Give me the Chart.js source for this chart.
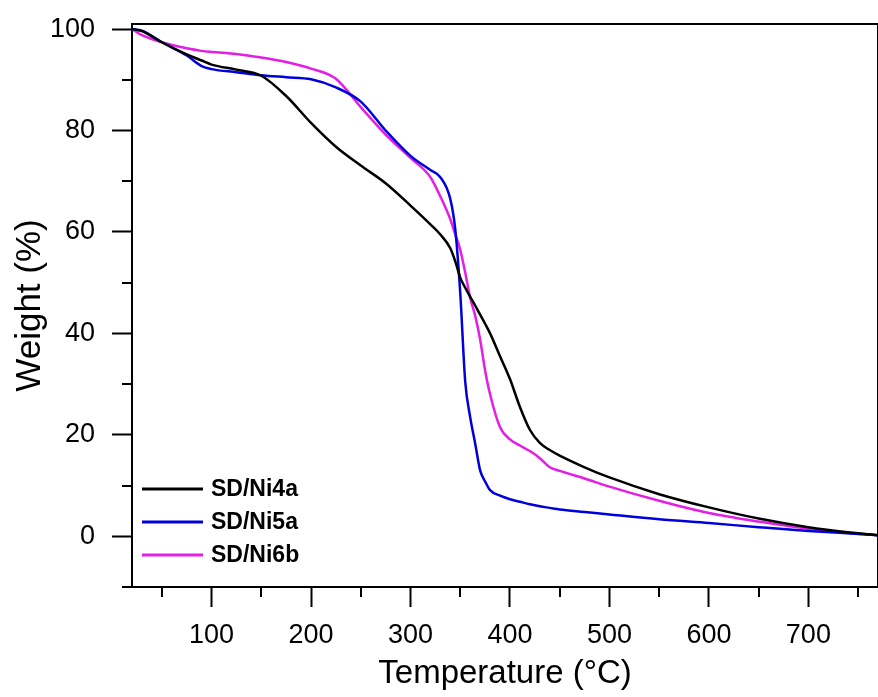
<!DOCTYPE html>
<html>
<head>
<meta charset="utf-8">
<script src="https://cdn.jsdelivr.net/npm/chart.js@4"></script>
<style>
  html, body { margin: 0; padding: 0; background: #fff; }
  canvas { display: block; }
</style>
</head>
<body>
<canvas id="tga" width="878" height="697"></canvas>
<script>
// Temperature grid (°C) and weight (%)
const temps = [20, 30, 50, 75, 90, 100, 125, 150, 175, 200, 225, 250, 275, 300, 320, 330, 340, 345, 350, 355,
  360, 365, 370, 375, 380, 390, 400, 410, 420, 430, 440, 450, 475, 500, 550, 600, 650, 700, 750, 770];

const ni4a = [100, 99.6, 97.4, 95, 93.8, 93.0, 92.0, 90.8, 86.8, 81.5, 76.8, 73.1, 69.6, 65.2, 61.5, 59.5, 56.8, 54.2, 51.0, 49.0,
  47.2, 45.5, 43.7, 41.9, 40.0, 35.5, 31.0, 25.5, 21.0, 18.4, 17.0, 15.9, 13.6, 11.6, 8.3, 5.7, 3.5, 1.8, 0.6, 0.2];

const ni5a = [100, 99.7, 97.4, 94.8, 92.7, 92.1, 91.5, 90.9, 90.5, 90.1, 88.5, 85.7, 80.0, 75.0, 72.2, 70.8, 66.5, 60.5, 48.0, 30.5,
  23.5, 18.3, 13.0, 10.8, 9.1, 8.0, 7.3, 6.8, 6.3, 5.9, 5.6, 5.3, 4.8, 4.3, 3.35, 2.6, 1.8, 1.05, 0.45, 0.2];

const ni6b = [100, 98.8, 97.4, 96.2, 95.7, 95.5, 95.1, 94.4, 93.5, 92.2, 90.2, 84.6, 79.2, 74.6, 70.8, 67.0, 62.5, 59.5, 56.5, 52.0,
  47.0, 43.5, 38.8, 32.7, 28.0, 21.5, 19.1, 17.9, 16.8, 15.4, 13.6, 12.9, 11.4, 9.8, 7.0, 4.6, 2.9, 1.5, 0.5, 0.2];

const seriesNames = ['SD/Ni4a', 'SD/Ni5a', 'SD/Ni6b'];
const seriesColors = ['#000000', '#0000dd', '#e41ee4'];

const xTicks = [100, 200, 300, 400, 500, 600, 700];
const xMinor = [50, 150, 250, 350, 450, 550, 650, 750];
const yTicks = [0, 20, 40, 60, 80, 100];
const yMinor = [-10, 10, 30, 50, 70, 90];

const FONT = "'Liberation Sans', Arial, Helvetica, sans-serif";

function toPoints(ys) {
  return temps.map((t, i) => ({ x: t, y: ys[i] }));
}

function noPad(s) {
  s.paddingTop = 0;
  s.paddingBottom = 0;
  s.paddingLeft = 0;
  s.paddingRight = 0;
}

// minor ticks, top/right frame and the in-plot legend
const extras = {
  id: 'extras',
  afterDraw(chart) {
    const ctx = chart.ctx;
    const a = chart.chartArea;
    const xs = chart.scales.x, ys = chart.scales.y;
    ctx.save();
    ctx.strokeStyle = '#000';
    ctx.lineWidth = 2;
    ctx.beginPath();
    ctx.moveTo(a.left, a.top);
    ctx.lineTo(a.right, a.top);
    ctx.lineTo(a.right, a.bottom);
    xMinor.forEach(v => {
      const px = Math.round(xs.getPixelForValue(v));
      ctx.moveTo(px, a.bottom);
      ctx.lineTo(px, a.bottom + 10);
    });
    yMinor.forEach(v => {
      const py = Math.round(ys.getPixelForValue(v));
      ctx.moveTo(a.left, py);
      ctx.lineTo(a.left - 10, py);
    });
    ctx.stroke();

    // legend
    ctx.font = 'bold 23px ' + FONT;
    ctx.textBaseline = 'middle';
    ctx.textAlign = 'left';
    chart.data.datasets.forEach((ds, i) => {
      const y = 489 + i * 33;
      ctx.strokeStyle = ds.borderColor;
      ctx.lineWidth = 3;
      ctx.beginPath();
      ctx.moveTo(142, y);
      ctx.lineTo(203, y);
      ctx.stroke();
      ctx.fillStyle = '#000';
      ctx.fillText(ds.label, 211, y + 1);
    });
    ctx.restore();
  }
};

new Chart(document.getElementById('tga'), {
  type: 'line',
  data: {
    datasets: seriesNames.map((name, i) => ({
      label: name,
      data: toPoints([ni4a, ni5a, ni6b][i]),
      borderColor: seriesColors[i],
      borderWidth: 2.5,
      pointRadius: 0,
      fill: false,
      cubicInterpolationMode: 'monotone'
    }))
  },
  options: {
    responsive: false,
    animation: false,
    devicePixelRatio: 1,
    layout: { padding: { top: 24, right: 0, left: 0, bottom: 0 } },
    plugins: { legend: { display: false }, tooltip: { enabled: false } },
    scales: {
      x: {
        type: 'linear',
        min: 20,
        max: 770,
        afterBuildTicks: s => { s.ticks = xTicks.map(v => ({ value: v })); },
        afterFit: s => { s.height = 110; noPad(s); },
        grid: { drawOnChartArea: false, drawTicks: true, tickLength: 20, tickWidth: 2, tickColor: '#000' },
        border: { display: true, color: '#000', width: 2 },
        ticks: { color: '#000', padding: 12, maxRotation: 0, font: { family: FONT, size: 27 } },
        title: {
          display: true,
          text: 'Temperature (°C)',
          color: '#000',
          padding: { top: 0, bottom: 3 },
          font: { family: FONT, size: 33 }
        }
      },
      y: {
        type: 'linear',
        min: -10,
        max: 101,
        afterBuildTicks: s => { s.ticks = yTicks.map(v => ({ value: v })); },
        afterFit: s => { s.width = 132; noPad(s); },
        grid: { drawOnChartArea: false, drawTicks: true, tickLength: 20, tickWidth: 2, tickColor: '#000' },
        border: { display: true, color: '#000', width: 2 },
        ticks: { color: '#000', padding: 17, font: { family: FONT, size: 27 } },
        title: {
          display: true,
          text: 'Weight (%)',
          color: '#000',
          padding: { top: 9, bottom: 0 },
          font: { family: FONT, size: 35 }
        }
      }
    }
  },
  plugins: [extras]
});
</script>
</body>
</html>
